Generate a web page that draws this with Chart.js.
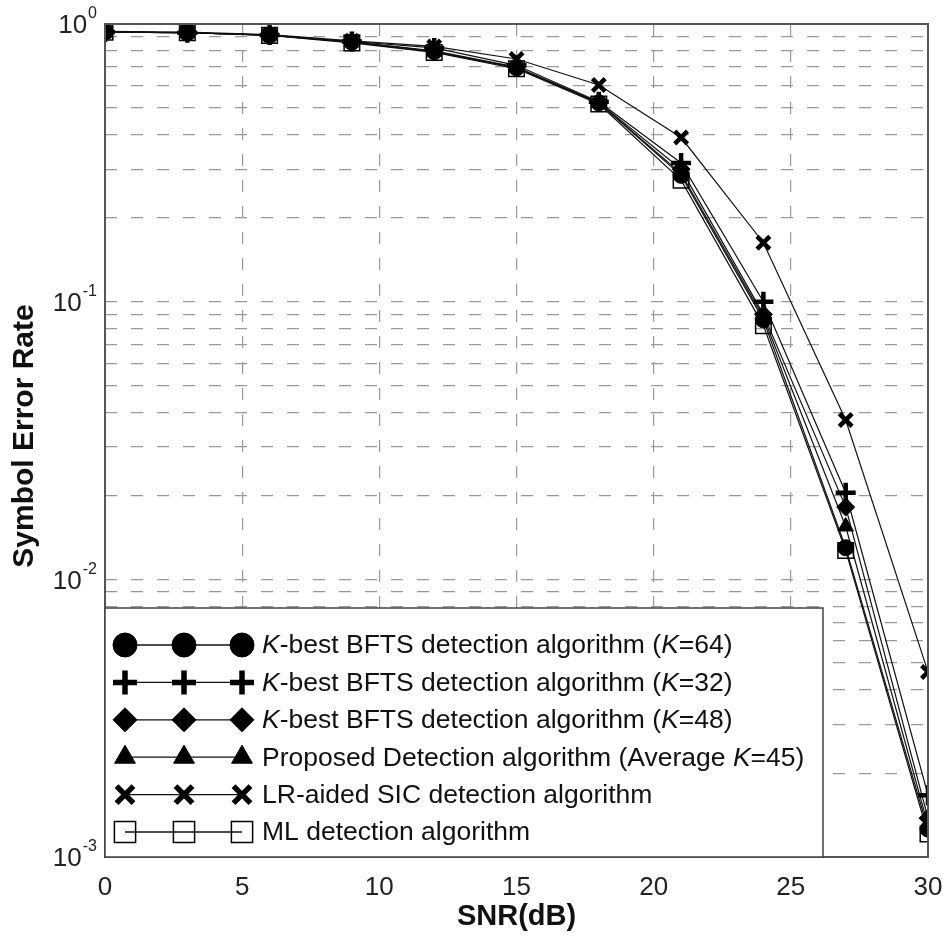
<!DOCTYPE html>
<html>
<head>
<meta charset="utf-8">
<script src="https://cdn.jsdelivr.net/npm/chart.js@4/dist/chart.umd.min.js"></script>
<style>
  html, body { margin: 0; padding: 0; background: #fff; }
  #wrap { width: 943px; height: 943px; }
</style>
</head>
<body>
<div id="wrap"><canvas id="ser" width="943" height="943"></canvas></div>
<script>
// SNR points (dB)
var snr = [0, 3, 6, 9, 12, 15, 18, 21, 24, 27, 30];

// symbol error rate
var k64 = [0.935, 0.93, 0.912, 0.86, 0.795, 0.695, 0.52, 0.285, 0.086, 0.013, 0.00126];
var k32 = [0.935, 0.93, 0.912, 0.865, 0.82, 0.71, 0.525, 0.316, 0.1, 0.0205, 0.00167];
var k48 = [0.935, 0.93, 0.912, 0.862, 0.8, 0.7, 0.522, 0.3, 0.09, 0.0182, 0.00138];
var proposed = [0.935, 0.93, 0.912, 0.86, 0.797, 0.697, 0.52, 0.29, 0.088, 0.0155, 0.0013];
var lrSic = [0.94, 0.935, 0.915, 0.87, 0.83, 0.748, 0.603, 0.39, 0.163, 0.0375, 0.00464];
var ml = [0.935, 0.93, 0.91, 0.855, 0.79, 0.69, 0.515, 0.274, 0.082, 0.0127, 0.00121];

var xTicks = [0, 5, 10, 15, 20, 25, 30];
var yDecades = [-3, -2, -1, 0];

// legend texts, pieces marked true are italic
var legendText = [
  [[true, "K"], [false, "-best BFTS detection algorithm ("], [true, "K"], [false, "=64)"]],
  [[true, "K"], [false, "-best BFTS detection algorithm ("], [true, "K"], [false, "=32)"]],
  [[true, "K"], [false, "-best BFTS detection algorithm ("], [true, "K"], [false, "=48)"]],
  [[false, "Proposed Detection algorithm (Average "], [true, "K"], [false, "=45)"]],
  [[false, "LR-aided SIC detection algorithm"]],
  [[false, "ML detection algorithm"]]
];

var FONT = "'Liberation Sans', Arial, sans-serif";

function pts(arr) {
  return snr.map(function (x, i) { return { x: x, y: arr[i] }; });
}

function series(values, style, r, bw, fill) {
  return {
    data: pts(values),
    borderColor: '#111',
    borderWidth: 1.2,
    pointStyle: style,
    pointRadius: r,
    pointHoverRadius: r,
    pointBorderWidth: bw,
    pointBorderColor: '#000',
    pointBackgroundColor: fill,
    backgroundColor: fill,
    fill: false,
    tension: 0
  };
}

var sets = [
  series(k64, 'circle', 8, 1, '#000'),
  series(k32, 'cross', 10, 4.5, '#000'),
  series(k48, 'rectRot', 9, 1, '#000'),
  series(proposed, 'triangle', 9, 1, '#000'),
  series(lrSic, 'crossRot', 9, 4.5, '#000'),
  series(ml, 'rect', 11, 1.5, 'rgba(0,0,0,0)')
];
// legend marker sizes
var legR = [12, 12, 12, 12, 12, 15];
var legBW = [1, 5.5, 1, 1, 5.5, 1.5];

var extras = {
  id: 'extras',
  afterDraw: function (chart) {
    var ctx = chart.ctx;
    var a = chart.chartArea;
    var ys = chart.scales.y;

    // frame
    ctx.save();
    ctx.strokeStyle = '#555';
    ctx.lineWidth = 2;
    ctx.strokeRect(a.left, a.top, a.right - a.left, a.bottom - a.top);
    ctx.restore();

    // y tick labels 10^n
    ctx.save();
    ctx.fillStyle = '#222';
    ctx.textBaseline = 'middle';
    ctx.textAlign = 'right';
    yDecades.forEach(function (p) {
      var yy = ys.getPixelForValue(Math.pow(10, p));
      var sup = String(p);
      ctx.font = '16px ' + FONT;
      var sw = ctx.measureText(sup).width;
      ctx.fillText(sup, 97, yy - 10);
      ctx.font = '26px ' + FONT;
      ctx.fillText('10', 96 - sw, yy + 2);
    });
    ctx.restore();

    // axis titles
    ctx.save();
    ctx.fillStyle = '#111';
    ctx.font = 'bold 29px ' + FONT;
    ctx.textAlign = 'center';
    ctx.textBaseline = 'middle';
    ctx.fillText('SNR(dB)', (a.left + a.right) / 2, 917);
    ctx.translate(25, 436);
    ctx.rotate(-Math.PI / 2);
    ctx.font = 'bold 30px ' + FONT;
    ctx.fillText('Symbol Error Rate', 0, 0);
    ctx.restore();

    // legend box
    var lx = a.left, ly = 608, lw = 823 - a.left, lh = a.bottom - 608;
    ctx.save();
    ctx.fillStyle = '#fff';
    ctx.fillRect(lx, ly, lw, lh);
    ctx.strokeStyle = '#444';
    ctx.lineWidth = 1.5;
    ctx.strokeRect(lx, ly, lw, lh);
    var mx = [125, 184, 242];
    for (var i = 0; i < sets.length; i++) {
      var yy = 645 + i * 37.4;
      ctx.strokeStyle = '#111';
      ctx.lineWidth = 1.3;
      ctx.beginPath();
      ctx.moveTo(mx[0], yy);
      ctx.lineTo(mx[2], yy);
      ctx.stroke();
      for (var j = 0; j < 3; j++) {
        ctx.save();
        ctx.strokeStyle = '#000';
        ctx.fillStyle = sets[i].pointBackgroundColor;
        ctx.lineWidth = legBW[i];
        Chart.helpers.drawPoint(ctx, { pointStyle: sets[i].pointStyle, radius: legR[i], rotation: 0, borderWidth: legBW[i] }, mx[j], yy);
        ctx.restore();
      }
      var tx = 262;
      ctx.fillStyle = '#111';
      ctx.textBaseline = 'middle';
      ctx.textAlign = 'left';
      legendText[i].forEach(function (part) {
        ctx.font = (part[0] ? 'italic ' : '') + '26.5px ' + FONT;
        ctx.fillText(part[1], tx, yy + 1);
        tx += ctx.measureText(part[1]).width;
      });
    }
    ctx.restore();
  }
};

new Chart(document.getElementById('ser'), {
  type: 'line',
  data: { datasets: sets },
  plugins: [extras],
  options: {
    responsive: false,
    animation: false,
    events: [],
    layout: { padding: { top: 24, right: 15, left: 0, bottom: 0 } },
    plugins: { legend: { display: false }, tooltip: { enabled: false } },
    scales: {
      x: {
        type: 'linear',
        min: 0,
        max: 30,
        afterBuildTicks: function (s) {
          s.ticks = xTicks.map(function (v) { return { value: v }; });
        },
        afterFit: function (s) { s.height = 86; s.paddingLeft = 0; s.paddingRight = 0; },
        grid: { color: '#999', lineWidth: 1.2, drawTicks: false, tickLength: 0 },
        border: { display: false, dash: [12, 14] },
        ticks: { color: '#222', font: { size: 26, family: FONT }, padding: 15, maxRotation: 0 }
      },
      y: {
        type: 'logarithmic',
        min: 0.001,
        max: 1,
        afterBuildTicks: function (s) {
          var t = [];
          yDecades.forEach(function (p) {
            for (var m = 1; m <= 9; m++) {
              var v = m * Math.pow(10, p);
              if (v <= 1.0000001) t.push({ value: v });
            }
          });
          s.ticks = t;
        },
        afterFit: function (s) { s.width = 105; s.paddingTop = 0; s.paddingBottom = 0; },
        grid: { color: '#999', lineWidth: 1.2, drawTicks: false, tickLength: 0 },
        border: { display: false, dash: [12, 14] },
        ticks: { display: false }
      }
    }
  }
});
</script>
</body>
</html>
